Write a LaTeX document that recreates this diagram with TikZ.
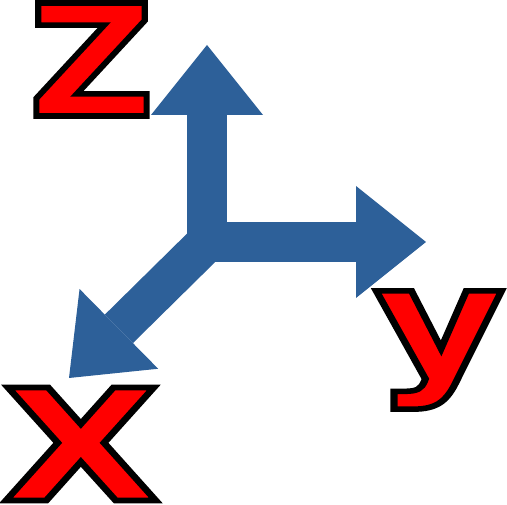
\documentclass[tikz,border=0pt]{standalone}
\usepackage{fontspec}
\newfontfamily\axisfont{DejaVu Sans}
\usepackage{tikz}
\usetikzlibrary{arrows.meta,calc}
\definecolor{axisblue}{RGB}{45,96,153}
\tikzset{
  axisarr/.style={-{Triangle[length=70pt,width=112pt,line width=0pt]}, line width=40pt, axisblue},
  axislbl/.style={inner sep=0pt, text=red, font=\axisfont\bfseries\fontsize{155}{155}\selectfont},
}
\newcommand{\outltext}[1]{\special{pdf:code 0 0 0 RG 5.5 w 2 Tr}#1\special{pdf:code 0 Tr}}

\begin{document}
\begin{tikzpicture}[x=1pt, y=-1pt]
        \useasboundingbox (0,0) rectangle (507,505);
        \coordinate (o) at (207,242);
        \coordinate (zt) at (207,45);
        \coordinate (yt) at (426,242);
        \coordinate (xt) at (69,378);
        \draw[axisarr] (o) -- (zt);
        \draw[axisarr] (o) -- (yt);
        \draw[axisarr] (o) -- (xt);
        \node[axislbl, xscale=1.12] (lz) at (91.5,59.5) {\outltext{Z}};
        \node[axislbl, xscale=1.3] (ly) at (439.5,350) {\outltext{y}};
        \node[axislbl, xscale=1.32] (lx) at (81,444) {\outltext{X}};
      \end{tikzpicture}
\end{document}
